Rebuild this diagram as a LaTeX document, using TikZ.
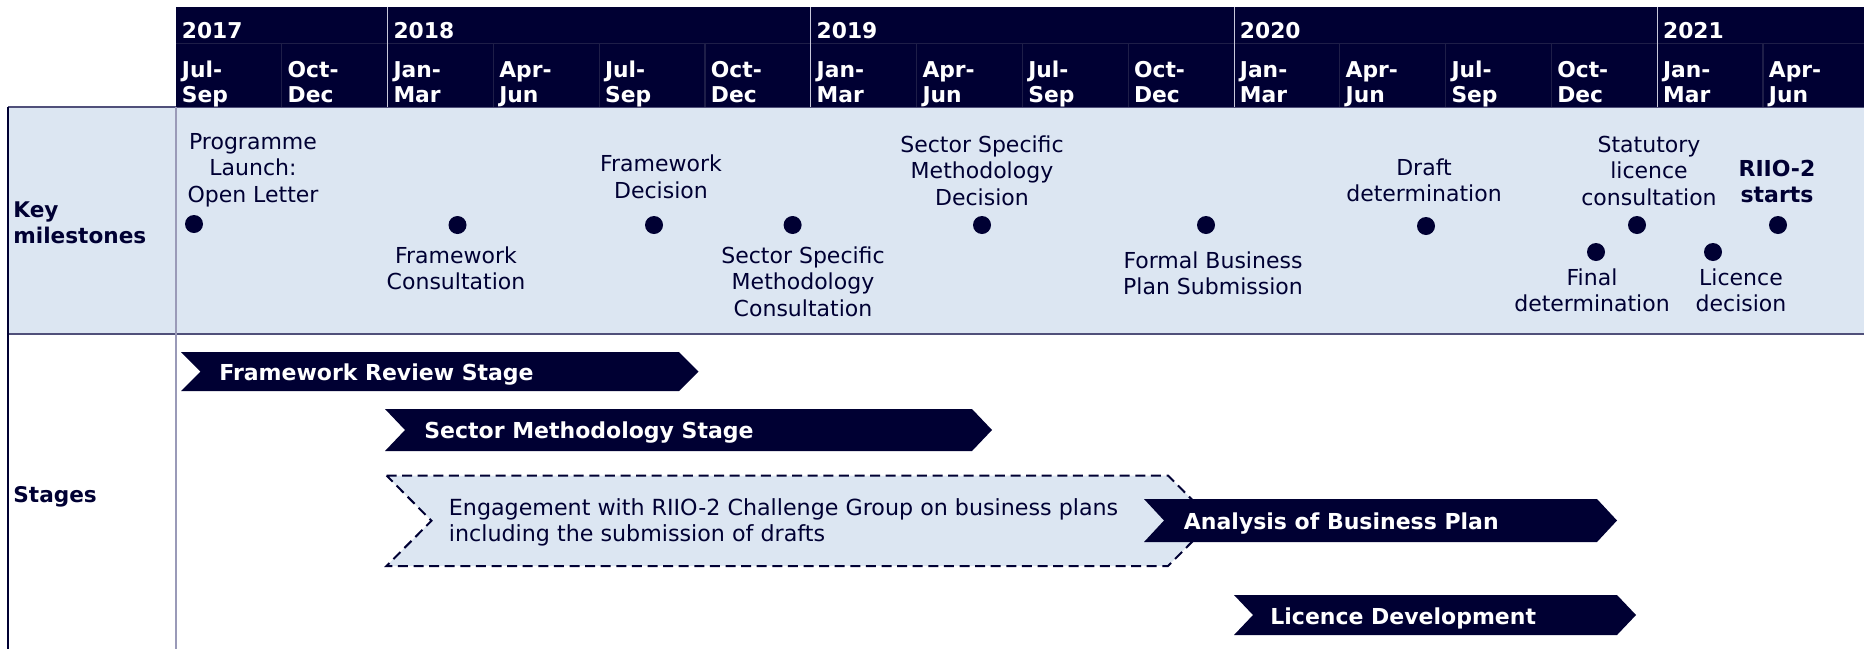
\documentclass[tikz,border=0pt]{standalone}
\usepackage{fontspec}
\setmainfont{DejaVu Sans}
\definecolor{navy}{HTML}{000033}
\definecolor{bandfill}{HTML}{DCE6F2}
\definecolor{sepgray}{HTML}{9A9AB8}
\definecolor{bandline}{HTML}{50507A}
\definecolor{yearsep}{HTML}{C8C8DA}
\definecolor{qsep}{HTML}{1E1E48}
\newcommand\mychev[6]{%
  \path[#6] (#1,#2) -- (#3,#2) -- ({#3+#5},{(#2+#4)/2}) -- (#3,#4) -- (#1,#4)
    -- ({#1+#5},{(#2+#4)/2}) -- cycle;}
\begin{document}
\begin{tikzpicture}[x=0.5pt,y=-0.5pt,
  ms/.style={font=\fontsize{11}{13.25}\selectfont, text=navy, align=center, inner sep=0pt, anchor=base},
  msb/.style={ms, font=\fontsize{11}{13}\selectfont\bfseries},
  hdr/.style={font=\fontsize{10.9}{12.5}\selectfont\bfseries, text=white, align=left, inner sep=0pt, anchor=base west},
  rowlab/.style={font=\fontsize{10.8}{13}\selectfont\bfseries, text=navy, align=left, inner sep=0pt, anchor=base west},
  stagetxt/.style={font=\fontsize{11}{13}\selectfont\bfseries, text=white, inner sep=0pt, anchor=base west},
  dot/.style={circle, fill=navy, inner sep=0pt, minimum size=9pt},
  chevfill/.style={fill=navy},
  chevdash/.style={fill=bandfill, draw=navy, line width=1pt, dash pattern=on 5pt off 2.8pt, line join=miter}
]
\useasboundingbox (0,0) rectangle (1864,649);
% milestone band
\fill[bandfill] (8,107) rectangle (1864,334);
\draw[bandline, line width=0.6pt] (8,107) -- (1864,107);
\draw[bandline, line width=0.6pt] (8,334) -- (1864,334);
\draw[navy, line width=0.6pt] (8,107) -- (8,649);
\draw[sepgray, line width=0.7pt] (176,107) -- (176,649);
% header
\fill[navy] (176,7) rectangle (1864,107);
\draw[qsep, line width=0.5pt] (176,43) -- (1864,43);
\foreach \k in {1,3,4,5,7,8,9,11,12,13,15,16}{
  \draw[qsep, line width=0.6pt] ({176+105.8*\k},43) -- ({176+105.8*\k},107);
}
\foreach \k in {2,6,10,14}{
  \draw[yearsep, line width=0.5pt] ({176+105.8*\k},7) -- ({176+105.8*\k},107);
}
\foreach \yr/\k in {2017/0,2018/2,2019/6,2020/10,2021/14}{
  \node[hdr] (y\yr) at ({181.5+105.8*\k},38) {\yr};
}
\foreach \q [count=\k from 0] in {Jul-\\Sep,Oct-\\Dec,Jan-\\Mar,Apr-\\Jun,Jul-\\Sep,Oct-\\Dec,Jan-\\Mar,Apr-\\Jun,Jul-\\Sep,Oct-\\Dec,Jan-\\Mar,Apr-\\Jun,Jul-\\Sep,Oct-\\Dec,Jan-\\Mar,Apr-\\Jun}{
  \node[hdr] (q\k) at ({181.5+105.8*\k},102) {\q};
}
% row labels
\node[rowlab] (keylab) at (13,243) {Key\\milestones};
\node[rowlab] (stageslab) at (13,502) {Stages};
% milestone dots
\node[dot] (d1) at (194,224) {};
\node[dot] (d2) at (457.5,225) {};
\node[dot] (d3) at (654,225) {};
\node[dot] (d4) at (792.6,225) {};
\node[dot] (d5) at (982,225) {};
\node[dot] (d6) at (1206,225) {};
\node[dot] (d7) at (1426,226) {};
\node[dot] (d8) at (1637,225) {};
\node[dot] (d9) at (1596,252) {};
\node[dot] (d10) at (1713,252) {};
\node[dot] (d11) at (1778,225) {};
% milestone labels (anchored at the baseline of the last line)
\node[ms] (m1) at (253,202) {Programme\\Launch:\\Open Letter};
\node[ms] (m2) at (456,289.5) {Framework\\Consultation};
\node[ms] (m3) at (661,198) {Framework\\Decision};
\node[ms] (m4) at (803,316) {Sector Specific\\Methodology\\Consultation};
\node[ms] (m5) at (982,205) {Sector Specific\\Methodology\\Decision};
\node[ms] (m6) at (1213,294.5) {Formal Business\\Plan Submission};
\node[ms] (m7) at (1424,201.5) {Draft\\determination};
\node[ms] (m8) at (1649,205) {Statutory\\licence\\consultation};
\node[ms] (m9) at (1592,311.5) {Final\\determination};
\node[ms] (m10) at (1741,311.5) {Licence\\decision};
\node[msb] (m11) at (1777,202) {RIIO-2\\starts};
% stages
\mychev{181}{352}{679}{391}{19.5}{chevfill}
\node[stagetxt] (s1) at (219,380) {Framework Review Stage};
\mychev{385}{409}{972}{451}{20}{chevfill}
\node[stagetxt] (s2) at (424,438.7) {Sector Methodology Stage};
\mychev{386.5}{475.5}{1168}{566}{45}{chevdash}
\node[ms, anchor=base west, align=left, font=\fontsize{11.1}{13}\selectfont] (s3) at (448.5,541.7)
  {Engagement with RIIO-2 Challenge Group on business plans\\including the submission of drafts};
\mychev{1144}{499}{1597}{542}{20}{chevfill}
\node[stagetxt] (s4) at (1183.5,529.3) {Analysis of Business Plan};
\mychev{1234}{595}{1617}{635}{19}{chevfill}
\node[stagetxt] (s5) at (1270,624) {Licence Development};
\end{tikzpicture}
\end{document}
